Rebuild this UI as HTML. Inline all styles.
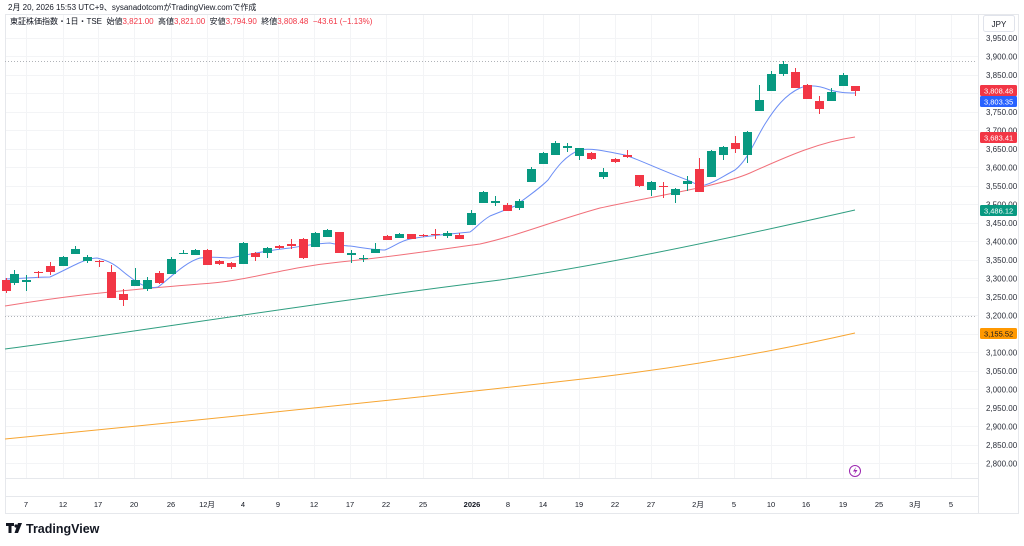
<!DOCTYPE html>
<html><head><meta charset="utf-8"><style>
body{margin:0;width:1024px;height:546px;background:#fff;overflow:hidden;font-family:"Liberation Sans","Noto Sans CJK JP",sans-serif}
svg{position:absolute;left:0;top:0}
</style></head><body>
<svg width="1024" height="546" viewBox="0 0 1024 546" xmlns="http://www.w3.org/2000/svg" font-family="Liberation Sans, Noto Sans CJK JP, sans-serif">
<g id="grid" stroke="#f3f4f6" stroke-width="1"></g>
<rect x="5.5" y="14.5" width="1013" height="499" fill="none" stroke="#e6e8ec"/>
<line x1="5" y1="478.5" x2="978" y2="478.5" stroke="#e6e8ec"/>
<line x1="5" y1="496.5" x2="978" y2="496.5" stroke="#e6e8ec"/>
<line x1="978.5" y1="14" x2="978.5" y2="514" stroke="#e6e8ec"/>
<line x1="5" y1="61.5" x2="975" y2="61.5" stroke="#b0b3b8" stroke-dasharray="1,2"/>
<line x1="5" y1="316.5" x2="975" y2="316.5" stroke="#b0b3b8" stroke-dasharray="1,2"/>
<g id="ma" fill="none" stroke-width="1">
<path stroke="#f7a531" d="M5,439 C200,420 400,400 600,377 C700,365 780,350 855,333"/>
<path stroke="#2f9e80" d="M5,349 C150,330 300,305 500,280 C600,265 700,245 855,210"/>
<path stroke="#f1707a" d="M5,306 C60,297 100,292 200,284 C250,281 280,268 340,262 C400,256 450,248 480,244 C520,235 550,222 600,208 C660,195 720,186 750,173 C790,155 820,142 855,137"/>
<path stroke="#6c8ef5" d="M5,279 C30,278 40,277 50,277 C70,268 85,258 97,258 C115,262 120,270 130,277 C140,285 150,289 158,287 C168,280 185,262 200,258 C215,256 222,258 230,258 C250,254 270,250 290,248 C310,245 320,243 330,243 C340,245 345,246 350,246 C365,248 375,250 385,250 C395,246 400,241 410,239 C425,236 440,235 470,232 C476,228 480,222 490,216 C500,212 505,210 515,206 C530,195 540,188 548,180 C555,170 565,155 580,150 C590,148 600,150 625,155 C640,160 660,170 690,181 C695,184 700,186 705,185 C715,182 720,178 735,170 C748,160 755,140 765,124 C775,108 785,95 800,88 C810,84 820,86 830,90 C840,93 848,93 855,93"/>
</g>
<g id="candles"></g>
<g font-size="8" fill="#2a2e39" text-anchor="start" id="yl"></g>
<rect x="983.5" y="15.5" width="31" height="16" rx="2" fill="#fff" stroke="#e0e3eb"/>
<text x="999" y="27" font-size="8" text-anchor="middle" fill="#131722">JPY</text>
<g font-size="7.5" fill="#fff">
<rect x="980" y="85" width="37" height="11" rx="1.5" fill="#f23645"/><text x="984" y="93.5">3,808.48</text>
<rect x="980" y="96" width="37" height="11" rx="1.5" fill="#2962ff"/><text x="984" y="104.5">3,803.35</text>
<rect x="980" y="132" width="37" height="11" rx="1.5" fill="#f23645"/><text x="984" y="140.5">3,683.41</text>
<rect x="980" y="205" width="37" height="11" rx="1.5" fill="#089981"/><text x="984" y="213.5">3,486.12</text>
<rect x="980" y="328" width="37" height="11" rx="1.5" fill="#ff9800"/><text x="984" y="336.5" fill="#131722">3,155.52</text>
</g>
<g font-size="7.5" fill="#131722" text-anchor="middle" id="xl"></g>
<circle cx="855" cy="471" r="5.5" fill="#fff" stroke="#9c27b0" stroke-width="1"/>
<path d="M856,467 L853,471.5 L855.5,471.5 L854,475 L857.5,470 L855,470 Z" fill="#9c27b0"/>
<text x="8" y="10" font-size="8" fill="#131722">2月 20, 2026 15:53 UTC+9、sysanadotcomがTradingView.comで作成</text>
<text x="10" y="24" font-size="8" fill="#131722">東証株価指数・1日・TSE&#160; 始値<tspan fill="#f23645">3,821.00</tspan>&#160; 高値<tspan fill="#f23645">3,821.00</tspan>&#160; 安値<tspan fill="#f23645">3,794.90</tspan>&#160; 終値<tspan fill="#f23645">3,808.48&#160; −43.61 (−1.13%)</tspan></text>
<g fill="#131722"><path d="M6,523 h8 v3 h-2.5 v7 h-3 v-7 h-2.5 z"/><circle cx="16" cy="526" r="1.6"/><path d="M18,523 h4 l-4,10 h-3.5 z"/></g>
<text x="26" y="533" font-size="12.5" font-weight="bold" fill="#131722">TradingView</text>
<script>
const NS="http://www.w3.org/2000/svg";
function el(p,t,a,txt){const e=document.createElementNS(NS,t);for(const k in a)e.setAttribute(k,a[k]);if(txt!=null)e.textContent=txt;document.getElementById(p).appendChild(e);}
const xs=[[26,"7"],[63,"12"],[98,"17"],[134,"20"],[171,"26"],[207,"12月"],[243,"4"],[278,"9"],[314,"12"],[350,"17"],[386,"22"],[423,"25"],[472,"2026"],[508,"8"],[543,"14"],[579,"19"],[615,"22"],[651,"27"],[698,"2月"],[734,"5"],[771,"10"],[806,"16"],[843,"19"],[879,"25"],[915,"3月"],[951,"5"]];
xs.forEach(([x,t])=>{el("grid","line",{x1:x+.5,y1:14,x2:x+.5,y2:478});el("xl","text",{x:x,y:507,"font-weight":t=="2026"?"bold":"normal"},t);});
for(let i=0;i<24;i++){const p=3950-50*i;const y=56.3+(3900-p)*0.37;el("grid","line",{x1:5,y1:Math.round(y)+.5,x2:978,y2:Math.round(y)+.5});
el("yl","text",{x:986,y:y+3},p.toLocaleString("en-US",{minimumFractionDigits:2}));}
const C=[[6,280,291,278,293,'r'],[14,274,283,270,285,'g'],[26,280,282,275,291,'g'],[38,272,273,271,278,'r'],[50,266,272,262,275,'r'],[63,257,266,256,266,'g'],[75,249,254,246,254,'g'],[87,257,261,255,263,'g'],[99,261,262,260,267,'r'],[111,272,298,265,298,'r'],[123,294,300,289,306,'r'],[135,280,286,268,286,'g'],[147,280,289,277,291,'g'],[159,273,283,271,284,'r'],[171,259,274,257,274,'g'],[183,253,254,250,254,'g'],[195,250,255,249,255,'g'],[207,250,265,249,265,'r'],[219,261,264,260,265,'r'],[231,263,267,262,269,'r'],[243,243,264,242,264,'g'],[255,253,257,252,261,'r'],[267,248,253,247,258,'g'],[279,246,248,245,249,'r'],[291,244,246,239,249,'r'],[303,239,258,238,259,'r'],[315,233,247,232,247,'g'],[327,230,237,229,237,'g'],[339,232,253,232,253,'r'],[351,253,255,250,263,'g'],[363,258,259,255,262,'g'],[375,249,253,243,253,'g'],[387,236,240,235,240,'r'],[399,234,238,233,238,'g'],[411,234,239,234,239,'r'],[423,235,236,234,237,'r'],[435,234,235,229,239,'r'],[447,233,236,231,238,'g'],[459,235,239,233,239,'r'],[471,213,225,210,225,'g'],[483,192,203,191,203,'g'],[495,201,203,196,206,'g'],[507,205,211,203,211,'r'],[519,201,208,199,210,'g'],[531,169,182,167,182,'g'],[543,153,164,152,164,'g'],[555,143,155,141,155,'g'],[567,146,148,143,152,'g'],[579,148,156,148,160,'g'],[591,153,159,152,160,'r'],[603,172,177,168,179,'g'],[615,159,162,158,163,'r'],[627,155,157,150,158,'r'],[639,175,186,175,187,'r'],[651,182,190,181,196,'g'],[663,186,187,182,198,'r'],[675,189,195,188,203,'g'],[687,181,184,176,191,'g'],[699,169,192,158,192,'r'],[711,151,177,150,177,'g'],[723,147,155,146,160,'g'],[735,143,149,136,153,'r'],[747,132,155,131,163,'g'],[759,100,111,85,111,'g'],[771,74,91,71,91,'g'],[783,64,74,61,76,'g'],[795,72,88,68,88,'r'],[807,85,99,84,99,'r'],[819,101,109,96,114,'r'],[831,92,101,88,101,'g'],[843,75,86,73,86,'g'],[855,86,91,86,96,'r']];
C.forEach(([x,t,b,wt,wb,c])=>{const col=c=='g'?'#089981':'#f23645';
el("candles","line",{x1:x+.5,y1:wt,x2:x+.5,y2:wb,stroke:col});
el("candles","rect",{x:x-4,y:t,width:9,height:Math.max(1,b-t),fill:col});});
</script>
</svg>
</body></html>
